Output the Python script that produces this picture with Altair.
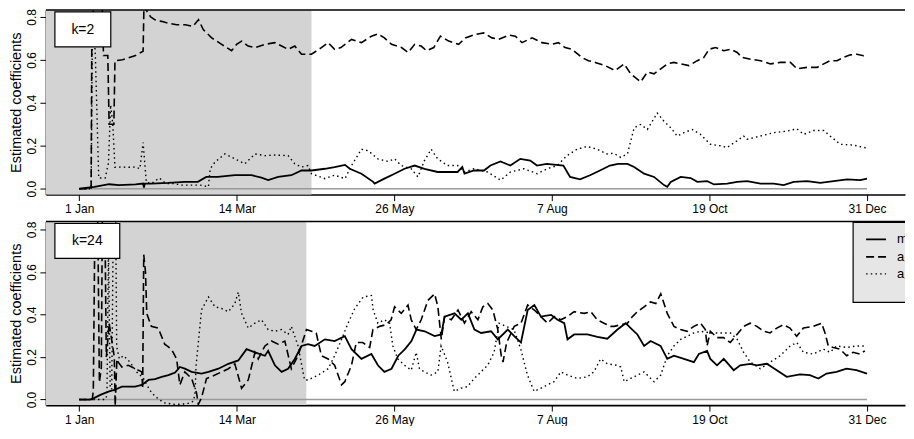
import json
import altair as alt
import pandas as pd

# ---------------- data ----------------
TICK_DAYS = [0, 72.8, 145.6, 218.4, 291.2, 364]
TICK_LABELS = ["1 Jan", "14 Mar", "26 May", "7 Aug", "19 Oct", "31 Dec"]
Y_TICKS = [0, 0.2, 0.4, 0.6, 0.8]
X_DOMAIN = [-15.4, 381.55]
TOP_Y_DOMAIN = [-0.027, 0.832]
BOT_Y_DOMAIN = [-0.026, 0.837]
TOP_SHADE = [-15.4, 107.3]
BOT_SHADE = [-15.4, 104.9]
ZERO_DAYS = [0, 364]
PANEL_LABELS = ["k=2", "k=24"]
LEGEND_LABELS = ["m", "a\u2081", "a\u2082"]

TOP_M = [(0,0.0),(7,0.009),(13.8,0.021),(18.4,0.017),(26,0.020),(29.5,0.024),(29.9,0.005),(30.3,0.024),
 (33.3,0.024),(41,0.027),(48.7,0.032),(54.8,0.032),(58.7,0.055),(64,0.055),(71.9,0.063),(79.6,0.063),
 (84.2,0.052),(87.3,0.040),(91.9,0.055),(98,0.063),(102.7,0.085),(107.3,0.085),(113.5,0.093),(118,0.101),
 (122.8,0.111),(125,0.093),(130.4,0.070),(135.8,0.032),(136.5,0.024),(141,0.047),(145.7,0.070),(150.3,0.093),
 (155,0.108),(159.5,0.093),(165.6,0.078),(170.2,0.078),(174.8,0.078),(177,0.101),(178,0.070),(182.4,0.085),
 (187,0.085),(190,0.108),(194.6,0.127),(199.2,0.108),(203.8,0.139),(208.4,0.131),(211.5,0.108),(216,0.116),
 (223.7,0.108),(226.8,0.055),(231.4,0.044),(236,0.063),(240.6,0.085),(245.2,0.108),(249,0.116),(253.3,0.116),
 (256.4,0.101),(261,0.070),(265.6,0.055),(270.2,0.017),(271.7,0.009),(273.3,0.032),(277.9,0.055),(282.5,0.050),
 (285.6,0.032),(290.2,0.035),(293.3,0.020),(299.4,0.024),(304,0.032),(308.6,0.035),(314.8,0.024),(320.9,0.024),
 (325.5,0.017),(330.1,0.032),(336.3,0.035),(342.4,0.027),(348.6,0.035),(354.8,0.044),(360.9,0.040),(364,0.047)]

TOP_A = [(0,0.0),(5.5,0.0),(5.9,0.9),(10.5,0.9),(11.2,0.62),(13.2,0.62),(13.8,0.30),(16.0,0.30),(16.5,0.596),
 (20,0.60),(26,0.62),(29.5,0.64),(29.9,0.85),(31,0.83),(33,0.80),(35,0.786),(38,0.779),(41,0.771),(45,0.763),
 (49,0.763),(52.5,0.756),(55.1,0.787),(57.3,0.741),(61.2,0.702),(65.8,0.672),(70.4,0.642),(72.7,0.672),(75,0.687),
 (78,0.664),(81.2,0.657),(85.8,0.672),(90.4,0.680),(93.5,0.664),(96.5,0.649),(99.6,0.664),(102.7,0.626),
 (107.3,0.626),(111.9,0.657),(115,0.680),(118,0.649),(120.9,0.657),(125.8,0.695),(130.4,0.680),(135,0.710),
 (138,0.721),(141,0.702),(144.3,0.672),(148.9,0.657),(152,0.634),(155,0.672),(158,0.664),(160.5,0.642),
 (163.8,0.657),(166.9,0.710),(170.7,0.687),(175.3,0.672),(178.4,0.702),(183,0.718),(186.9,0.725),(190.7,0.702),
 (193.8,0.695),(198.4,0.715),(201.5,0.710),(204.6,0.680),(209.2,0.702),(213.8,0.680),(218.4,0.672),(221.4,0.680),
 (224.5,0.657),(227.6,0.649),(232.2,0.611),(235.3,0.596),(238.4,0.588),(243,0.573),(247.6,0.55),(251.8,0.581),
 (254.8,0.535),(259.4,0.497),(262.5,0.543),(265.6,0.535),(268.7,0.558),(271.7,0.581),(274.8,0.588),(277.9,0.581),
 (281.7,0.573),(285.6,0.596),(288.6,0.611),(291,0.649),(294,0.657),(297.9,0.642),(301,0.649),(304,0.634),
 (306.3,0.611),(310.2,0.603),(314.8,0.596),(319.4,0.581),(324,0.588),(328.6,0.588),(331.7,0.558),(336.3,0.565),
 (340.9,0.565),(344,0.581),(347,0.596),(350.1,0.596),(353.2,0.611),(356.3,0.623),(359.3,0.626),(362.4,0.619),(364,0.626)]

TOP_D = [(0,0.0),(5.5,0.0),(6.2,0.9),(7.5,0.6),(9,0.05),(12,0.05),(13.5,0.12),(14.5,0.39),(15.5,0.30),(16.5,0.10),
 (19,0.101),(22,0.10),(26,0.101),(28,0.093),(29.5,0.215),(31,0.03),(33.3,0.024),(37,0.05),(40,0.024),(44,0.024),
 (47,0.017),(52,0.017),(56,0.017),(59.7,0.009),(60.5,0.093),(62.7,0.124),(67.3,0.162),(71.9,0.139),(76.5,0.116),
 (81.2,0.162),(85.8,0.154),(90.4,0.157),(96.5,0.154),(99.6,0.116),(102.7,0.101),(105.7,0.108),(107.3,0.070),
 (113.5,0.047),(118,0.063),(122.8,0.047),(125.8,0.108),(130.4,0.184),(133.5,0.177),(138,0.139),(142.7,0.127),
 (145.7,0.139),(148.8,0.108),(153.4,0.093),(156.5,0.055),(159.5,0.131),(162.6,0.184),(165.6,0.139),(170.2,0.108),
 (174.8,0.108),(177.9,0.078),(182.4,0.093),(188.6,0.078),(194.7,0.040),(199.3,0.078),(205.5,0.093),(211.6,0.070),
 (216.2,0.093),(220.8,0.108),(225.4,0.154),(230,0.184),(234.6,0.197),(239.2,0.184),(243.8,0.162),(247,0.165),
 (250.2,0.146),(253.3,0.162),(256.4,0.284),(259.4,0.299),(262.5,0.276),(267.1,0.352),(270.2,0.314),(273.3,0.284),
 (276.3,0.245),(279.4,0.261),(283.2,0.276),(287,0.253),(291.6,0.207),(296.2,0.200),(299.3,0.192),(303.9,0.223),
 (307,0.245),(308.5,0.230),(314.7,0.245),(320.8,0.261),(327,0.268),(331.6,0.279),(334.7,0.253),(339.3,0.271),
 (344,0.271),(347,0.245),(351.6,0.207),(357.8,0.203),(364,0.189)]

BOT_M = [(0,0.0),(5,0.0),(7,0.008),(10,0.023),(13.8,0.038),(16.5,0.046),(19.7,0.061),(22.7,0.061),(25.8,0.061),
 (28.9,0.069),(32,0.092),(35,0.096),(38.1,0.107),(41.2,0.115),(44.3,0.127),(46.5,0.153),(48.8,0.145),(51.9,0.130),
 (56.5,0.122),(59.7,0.130),(64.3,0.145),(68.9,0.168),(73.5,0.184),(77.3,0.237),(81.2,0.222),(85.8,0.206),
 (87.3,0.229),(90.4,0.161),(93.5,0.130),(96.5,0.145),(99.6,0.191),(102.7,0.252),(105.7,0.260),(108.8,0.252),
 (113.5,0.283),(118,0.275),(122.7,0.298),(125.8,0.237),(130.4,0.191),(135,0.214),(138,0.161),(141,0.130),
 (144.3,0.145),(147.4,0.206),(150.5,0.237),(153.5,0.275),(155.8,0.329),(159.6,0.321),(164.2,0.298),(167.3,0.306),
 (168.8,0.390),(173.4,0.405),(176.5,0.375),(179.6,0.405),(182.6,0.329),(185.7,0.313),(190.3,0.321),(193.4,0.283),
 (198,0.329),(201,0.298),(204.1,0.268),(207.2,0.421),(210.3,0.444),(213.3,0.390),(218,0.398),(221,0.375),
 (224.1,0.359),(225.6,0.283),(228.7,0.306),(234.8,0.306),(239.4,0.295),(244,0.286),(248.7,0.329),(252.5,0.359),
 (254.8,0.336),(257.9,0.306),(261,0.252),(264,0.275),(268.6,0.252),(271.7,0.191),(274.8,0.206),(279.4,0.191),
 (284,0.176),(286.3,0.214),(290.1,0.229),(291.6,0.191),(294.7,0.161),(297.8,0.191),(302.4,0.138),(305.4,0.161),
 (310,0.168),(313.1,0.161),(317.7,0.168),(322.3,0.138),(326.9,0.107),(333,0.118),(337.6,0.115),(341.5,0.099),
 (345.3,0.122),(349.9,0.130),(354.5,0.145),(359.1,0.138),(364,0.122)]

BOT_A = [(0,0.0),(6,0.0),(6.5,0.04),(7.3,0.9),(8.5,0.9),(9.3,0.08),(10.2,0.15),(10.7,0.9),(11.8,0.9),(12.5,0.2),
 (13.2,0.28),(13.8,0.36),(15,0.28),(16.2,0.20),(16.6,-0.03),(17.4,0.19),(18,0.176),(19.7,0.153),(22.7,0.161),
 (25.8,0.145),(28.9,0.130),(29.3,0.05),(29.8,0.681),(30.6,0.60),(31.2,0.405),(33.3,0.344),(36.5,0.336),(39.5,0.260),
 (42.6,0.237),(45,0.191),(46.5,0.069),(48.8,0.130),(51.9,0.099),(54.2,0.031),(55,-0.023),(56.5,0.008),(58.8,0.099),
 (62.7,0.115),(65.8,0.130),(68.9,0.145),(71.9,0.168),(75,0.053),(78.1,0.092),(81.2,0.222),(82.7,0.191),(85.8,0.252),
 (88.8,0.275),(91.9,0.260),(95,0.275),(98,0.145),(101.1,0.206),(105,0.329),(107.3,0.321),(109.5,0.313),(111.9,0.206),
 (115,0.191),(118,0.161),(121.2,0.069),(122.7,0.084),(125.8,0.161),(128,0.268),(131,0.268),(134.2,0.245),
 (135.7,0.329),(138.8,0.344),(141.8,0.352),(144.1,0.375),(145.7,0.436),(148.8,0.405),(151.9,0.444),(153.4,0.375),
 (155.7,0.329),(158,0.375),(161.1,0.466),(164.2,0.497),(165.7,0.436),(167.3,0.283),(168.8,0.390),(171.9,0.375),
 (175,0.421),(178,0.359),(181.1,0.413),(184.2,0.375),(186.5,0.436),(188.8,0.451),(191.1,0.421),(193.4,0.329),
 (195,0.206),(195.8,0.176),(197.5,0.268),(201,0.344),(204.1,0.359),(207.2,0.444),(210.3,0.421),(213.3,0.390),
 (216.4,0.359),(219.5,0.390),(222.5,0.375),(225.6,0.390),(228.7,0.413),(233.3,0.405),(236.4,0.413),(239.4,0.375),
 (242.5,0.359),(245.6,0.344),(247.2,0.344),(250.3,0.352),(253.3,0.359),(255.6,0.390),(257.9,0.413),(261,0.436),
 (264,0.459),(266.4,0.451),(268.7,0.497),(270.2,0.451),(271.7,0.405),(274.8,0.344),(277.8,0.329),(280.9,0.321),
 (284,0.344),(287,0.359),(289.3,0.329),(290.1,0.252),(291.6,0.321),(294.7,0.291),(297.7,0.291),(300.8,0.268),
 (303.9,0.306),(307,0.344),(310,0.359),(313.1,0.344),(316.2,0.321),(319.2,0.313),(322.3,0.336),(325.4,0.352),
 (328.4,0.336),(331.5,0.298),(334.6,0.336),(339.2,0.344),(343,0.359),(344.6,0.313),(346.1,0.252),(348.4,0.245),
 (351.5,0.237),(354.6,0.206),(357.6,0.222),(360.7,0.214),(363,0.229)]

BOT_D = [(0,0.0),(12,0.0),(12.8,0.02),(13.5,0.70),(14.3,0.05),(15,0.05),(15.8,0.9),(16.8,0.9),(17.3,0.25),
 (18.5,0.191),(20.5,0.206),(23.5,0.176),(26.5,0.130),(29.7,0.099),(31.2,0.069),(33.5,0.031),(36,0.008),(39,-0.015),
 (44,-0.023),(49.7,-0.020),(52.8,-0.008),(53.5,0.031),(54,0.161),(56.5,0.421),(59.7,0.482),(62.7,0.436),(65.8,0.428),
 (68.9,0.413),(71.9,0.451),(73.5,0.505),(75,0.405),(78.1,0.336),(81.2,0.359),(84.2,0.375),(87.3,0.329),(90.3,0.321),
 (93.4,0.329),(96.5,0.306),(98,0.344),(101.1,0.252),(104.1,0.092),(105.8,0.092),(107.2,0.099),(110.4,0.115),
 (115,0.145),(118,0.206),(121.2,0.283),(124.2,0.359),(127.3,0.428),(131.2,0.482),(135,0.489),(135.8,0.421),
 (138,0.359),(141,0.375),(143.4,0.359),(144.9,0.252),(147.2,0.191),(150.3,0.161),(153.4,0.138),(155.7,0.222),
 (157.2,0.145),(159.5,0.130),(162.6,0.115),(165.7,0.130),(167.2,0.252),(170.2,0.176),(173.3,0.038),(176.4,0.053),
 (179.4,0.061),(182.5,0.099),(185.6,0.130),(188.7,0.161),(191.7,0.222),(194,0.359),(197.1,0.344),(200.9,0.329),
 (204,0.237),(207.1,0.115),(210.2,0.038),(213.2,0.053),(216.3,0.069),(219.4,0.084),(222.5,0.130),(225.6,0.115),
 (230.2,0.099),(234.8,0.107),(237.8,0.130),(240.9,0.191),(244,0.168),(248.6,0.161),(250.2,0.153),(251.8,0.084),
 (254.8,0.099),(257.9,0.115),(261,0.130),(265.6,0.084),(268.7,0.115),(271.7,0.206),(274.8,0.252),(277.9,0.283),
 (281,0.298),(284,0.313),(287.1,0.321),(291.7,0.313),(296.3,0.313),(300.9,0.313),(304,0.283),(307,0.222),
 (310.1,0.176),(314.7,0.145),(319.3,0.176),(323.9,0.206),(328.5,0.252),(331.6,0.268),(334.6,0.222),(339.2,0.214),
 (343.8,0.237),(346.9,0.222),(350,0.252),(354.6,0.245),(359.2,0.252),(363,0.252)]

# ---------------- styling / layout ----------------
FONT = "Liberation Sans"
W = 861
H_TOP, H_BOT = 185, 184
SHADE_COLOR = "#d3d3d3"

label_expr = "{}[indexof({}, datum.value)]".format(json.dumps(TICK_LABELS), json.dumps(TICK_DAYS))

x_axis = alt.Axis(values=TICK_DAYS, labelExpr=label_expr, title=None, grid=False,
                  tickSize=6, tickWidth=1, tickColor="black", domainColor="black", domainWidth=1.6,
                  labelFont=FONT, labelFontSize=12, labelColor="black", labelPadding=3,
                  labelFlush=False, labelOverlap=False)


def y_axis(h):
    return alt.Axis(values=Y_TICKS, format=".1f", grid=False, title="Estimated coefficients",
                    tickSize=6, tickWidth=1, tickColor="black", domainColor="black", domainWidth=1.6,
                    labelFont=FONT, labelFontSize=12, labelColor="black", labelAngle=270,
                    labelAlign="center", labelBaseline="bottom", labelPadding=1,
                    labelFlush=False, labelOverlap=False,
                    titleFont=FONT, titleFontSize=14.5, titleFontWeight="normal", titleColor="black",
                    titleAngle=270, titleAlign="center", titleBaseline="middle",
                    titleX=-29, titleY=h / 2)


def series_df(pairs):
    return pd.DataFrame(pairs, columns=["day", "value"])


def panel(series, y_domain, shade, label, box_x2, h, with_legend=False):
    xs = alt.Scale(domain=X_DOMAIN, nice=False, zero=False)
    X = alt.X("day:Q", scale=xs, axis=x_axis)
    Y = alt.Y("value:Q", scale=alt.Scale(domain=y_domain, nice=False, zero=False), axis=y_axis(h))

    shade_layer = alt.Chart(pd.DataFrame({"start": [shade[0]], "end": [shade[1]]})).mark_rect(
        color=SHADE_COLOR).encode(
        x=alt.X("start:Q", scale=xs, axis=x_axis),
        x2="end:Q", y=alt.value(0), y2=alt.value(h))

    zero_layer = alt.Chart(pd.DataFrame({"day": ZERO_DAYS, "value": [0, 0]})).mark_line(
        color="#9a9a9a", strokeWidth=1.6, clip=True).encode(x=X, y=Y)

    m_pairs, a_pairs, d_pairs = series
    d_layer = alt.Chart(series_df(d_pairs)).mark_line(
        color="black", strokeWidth=1.4, strokeDash=[1.5, 3.2], clip=True).encode(x=X, y=Y)
    a_layer = alt.Chart(series_df(a_pairs)).mark_line(
        color="black", strokeWidth=1.6, strokeDash=[8, 4], clip=True).encode(x=X, y=Y)
    m_layer = alt.Chart(series_df(m_pairs)).mark_line(
        color="black", strokeWidth=1.8, clip=True).encode(x=X, y=Y)

    lab_df = pd.DataFrame({"label": [label]})
    box = alt.Chart(lab_df).mark_rect(fill="white", stroke="black", strokeWidth=1.2).encode(
        x=alt.value(9), x2=alt.value(box_x2), y=alt.value(2), y2=alt.value(37))
    txt = alt.Chart(lab_df).mark_text(font=FONT, fontSize=14, color="black",
                                      align="center", baseline="middle").encode(
        x=alt.value((9 + box_x2) / 2), y=alt.value(20), text="label:N")

    top_rule = alt.Chart(lab_df).mark_rule(color="black", strokeWidth=1.6).encode(
        x=alt.value(0), x2=alt.value(W), y=alt.value(0))

    layers = [shade_layer, zero_layer, d_layer, a_layer, m_layer, box, txt]

    if with_legend:
        leg_df = pd.DataFrame({"label": LEGEND_LABELS})
        lx = 809
        leg_box = alt.Chart(lab_df).mark_rect(fill="#e6e6e6", stroke="black", strokeWidth=1.2,
                                              clip=True).encode(
            x=alt.value(lx), x2=alt.value(W + 4), y=alt.value(1), y2=alt.value(81))
        layers.append(leg_box)
        dashes = [None, [8, 4], [1.5, 3.2]]
        widths = [1.8, 1.6, 1.4]
        ys = [18, 35.5, 52.5]
        for i in range(3):
            kw = dict(color="black", strokeWidth=widths[i], clip=True)
            if dashes[i] is not None:
                kw["strokeDash"] = dashes[i]
            layers.append(alt.Chart(lab_df).mark_rule(**kw).encode(
                x=alt.value(lx + 13), x2=alt.value(lx + 33), y=alt.value(ys[i])))
            layers.append(alt.Chart(leg_df.iloc[[i]]).mark_text(
                font=FONT, fontSize=13, color="black", align="left", baseline="middle",
                clip=True).encode(x=alt.value(lx + 44), y=alt.value(ys[i]), text="label:N"))

    layers.append(top_rule)
    return alt.layer(*layers).properties(width=W, height=h)


top = panel((TOP_M, TOP_A, TOP_D), TOP_Y_DOMAIN, TOP_SHADE, PANEL_LABELS[0], 65, H_TOP)
bottom = panel((BOT_M, BOT_A, BOT_D), BOT_Y_DOMAIN, BOT_SHADE, PANEL_LABELS[1], 74, H_BOT,
               with_legend=True)

chart = alt.vconcat(top, bottom, spacing=6).properties(
    padding={"top": -0.5, "left": 0, "right": 0, "bottom": 0},
    background="white",
).configure_view(stroke=None)

chart.save("out.html", embed_options={"renderer": "svg", "actions": False})
